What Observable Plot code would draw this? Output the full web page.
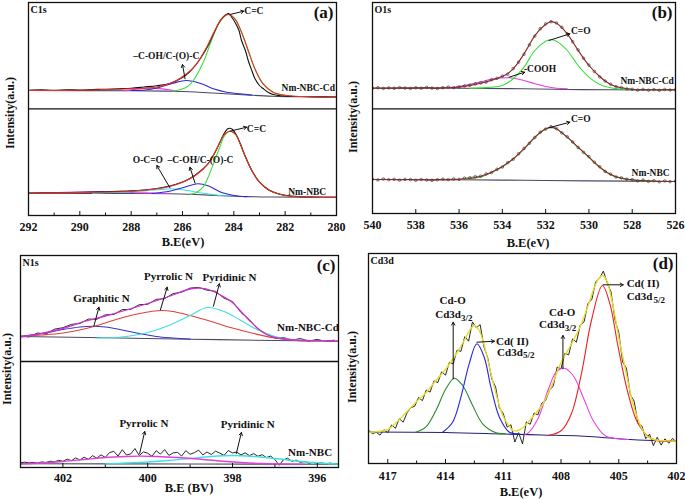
<!DOCTYPE html>
<html><head><meta charset="utf-8">
<script src="https://cdn.jsdelivr.net/npm/d3@7"></script>
<script src="https://cdn.jsdelivr.net/npm/@observablehq/plot@0.6"></script>
<style>
body{margin:0;background:#fff;}
#wrap{position:relative;width:685px;height:499px;overflow:hidden;font-family:"Liberation Serif","Times New Roman",serif;font-weight:bold;color:#111;}
.p{position:absolute;}
.xt{position:absolute;white-space:nowrap;font-size:12.5px;transform:translate(-50%,-50%);}
.yt{position:absolute;white-space:nowrap;font-size:12px;transform:translate(-50%,-50%) rotate(-90deg);}
</style></head><body><div id="wrap"></div>
<script>
// ---------------- (a) C1s ----------------
const ticksA = [292,290,288,286,284,282,280];
const minorA = [291,289,287,285,283,281];
const c1sCdBase = [[292,125],[288,124.7],[286.5,124.3],[285.5,123.5],[284.5,122],[283.5,120.5],[282.5,119.2],[281.5,118.7],[280,118.5]];
const c1sCdData = [[292,125.3],[291.5,125.6],[291,125.2],[290.5,125.8],[290,125.5],[289.5,126],[289,126.3],[288.5,126.8],[288,127.3],[287.5,128.5],[287,129.8],[286.5,132],[286,138],[285.75,143],[285.5,150],[285.25,159],[285,170],[284.75,184],[284.5,196],[284.3,201],[284.2,202],[284.1,199],[283.95,193],[283.8,185],[283.7,175],[283.55,165],[283.44,155],[283.3,145],[283.18,137],[283,130],[282.86,127],[282.65,123],[282.47,121],[282.2,119.8],[281.95,119.2],[281.5,119],[281,118.8],[280,118.5]];
const c1sCdFit = [[292,125],[290,125.2],[288,126.7],[287,128.5],[286.36,133.3],[285.84,141.7],[285.45,151.7],[285.06,168.3],[284.74,185],[284.48,196.7],[284.22,201],[283.96,196.7],[283.7,183.3],[283.44,165],[283.18,146.7],[282.86,131.7],[282.47,123.3],[281.95,120],[281,118.8],[280,118.5]];
const c1sCdCC = [[286.4,124.4],[286.1,125.7],[285.8,129],[285.58,135],[285.19,153.3],[284.87,175],[284.55,193.3],[284.22,201],[283.96,196.7],[283.7,183.3],[283.44,165],[283.18,146.7],[282.86,131.7],[282.47,123.3],[281.95,120],[281.5,119]];
const c1sCdCOH = [[288,125],[287.53,125.3],[286.88,128.3],[286.36,132.3],[285.84,135],[285.32,132.3],[284.8,126.7],[284.28,123.3],[283.76,121.7],[283.3,120.5]];
const c1sCdOther = [[288.3,124.8],[287.8,126.2],[287.3,127.4],[286.8,126.6],[286.3,124.8]];
const c1sBase = [[292,22.3],[288,22],[286.5,21.8],[285.5,21],[284.5,19.8],[283.5,18.9],[282.5,18.5],[280,18.3]];
const c1sData = [[292,22.5],[291,22.8],[290,23.2],[289,23.8],[288,24.6],[287.5,25.5],[287,27],[286.5,29.5],[286,33.5],[285.75,36.5],[285.5,40.5],[285.25,45.5],[285,52],[284.8,60],[284.6,70],[284.4,81],[284.25,86.5],[284.15,87.3],[284.05,86],[283.9,80.5],[283.75,72],[283.6,62],[283.45,53],[283.3,45],[283.15,38.5],[283,33.5],[282.8,28.5],[282.6,25],[282.3,22],[282,20.3],[281.5,19],[281,18.5],[280,18.3]];
const c1sFit = [[292,22.3],[290,23],[288,24.3],[287,26.7],[286.5,29],[286,33.3],[285.5,40],[285,51.7],[284.7,65],[284.55,73],[284.4,80],[284.28,83],[284.15,84.3],[284.02,83],[283.9,80],[283.75,71.5],[283.6,61.7],[283.3,45],[283,33.3],[282.6,25],[282,20],[281,18.3],[280,18.3]];
const c1sCC = [[285.7,21.2],[285.5,22.5],[285.2,28.3],[285,38.3],[284.7,58.3],[284.55,68],[284.4,78.3],[284.28,82.5],[284.15,84.3],[284.02,83],[283.9,80],[283.75,71.5],[283.6,61.7],[283.3,45],[283,33.3],[282.6,25],[282,20],[281.5,18.7]];
const c1sCOH = [[287.2,22],[286.5,24.3],[286,27.7],[285.4,31.7],[285,29.7],[284.5,23.3],[284,20],[283.5,18.9]];
const c1sOCO = [[289.5,22.2],[289,22.7],[288,23.7],[287,25.7],[286.4,26.7],[285.8,25],[285.2,22.3],[284.6,20.3],[284.2,19.5]];
const c1sOther = [[291.5,22.3],[290.5,23.2],[289.5,23.8],[288.5,23.6],[287.5,22.6],[286.5,22]];
const notesA = [
  {x:283.22,y:205,t:"C=C"},{x:286.63,y:160,t:"–C-OH/C-(O)-C"},{x:281.1,y:127.7,t:"Nm-NBC-Cd"},
  {x:283.12,y:86.7,t:"C=C"},{x:287.35,y:55.7,t:"O-C=O"},{x:285.3,y:55.7,t:"–C-OH/C-(O)-C"},{x:281.14,y:23.3,t:"Nm-NBC"}];
const arrowsA = [[284.15,201,283.61,204.3],[285.9,136.7,286.0,151],[284.15,84.3,283.5,88.3],[286.49,27.7,287.0,50],[285.51,32.3,285.71,48.3]];

// ---------------- (b) O1s ----------------
const ticksB = [540,538,536,534,532,530,528,526];
const o1sCdBase = [[540,125.3],[536,125.3],[533,124.7],[531,124],[529,123.7],[526,123.7]];
const o1sCdFit = [[540,125.3],[538,125.7],[536,126.3],[535,130.3],[534,137],[533.5,144.7],[533,159.7],[532.5,178],[532,189],[531.75,192],[531.5,190.3],[531,179.7],[530.5,163],[530,148],[529.5,137],[529,129],[528.5,125.7],[528,124.3],[527,123.7],[526,123.7]];
const o1sCdCO = [[535.5,125.2],[535,125.6],[534,128],[533.5,134.7],[533,146.3],[532.5,163],[532,172.3],[531.8,173.7],[531.5,172.3],[531,163],[530.5,148],[530,136.3],[529.5,129],[529,125.7],[528.5,124.3],[528,123.7]];
const o1sCdCOOH = [[536.5,125.3],[536,127],[535,131.7],[534.5,134.3],[533.7,135.7],[533,133],[532.5,129.7],[532,127],[531.5,125.3],[531,124.7]];
const o1sCdData = [[540,125.3],[539.75,125.8],[539.5,125.1],[539.25,125.6],[539,125.2],[538.75,125.9],[538.5,125.4],[538.25,125],[538,125.7],[537.75,125.3],[537.5,126.1],[537.25,125.4],[537,125],[536.75,125.8],[536.5,126.4],[536.25,125.9],[536,126.6],[535.75,127.5],[535.5,128.2],[535.25,129.6],[535,130.5],[534.75,131.4],[534.5,133.8],[534.25,135.2],[534,137.4],[533.75,139.2],[533.5,144.9],[533.25,151.3],[533,159.2],[532.75,168.6],[532.5,177.4],[532.25,184.8],[532,189.6],[531.75,191.8],[531.5,190.6],[531.25,186.2],[531,179.4],[530.75,171.8],[530.5,163.6],[530.25,155.3],[530,148.4],[529.75,142.1],[529.5,136.6],[529.25,132.5],[529,129.3],[528.75,126.8],[528.5,125.9],[528.25,124.6],[528,124.2],[527.75,123.4],[527.5,124.1],[527.25,123.3],[527,123.9],[526.75,123.2],[526.5,124],[526.25,123.5],[526,123.7]];
const o1sBase = [[540,34],[536,33.8],[533,33.2],[530,32.6],[526,32]];
const o1sFit = [[540,34],[538,33.7],[536,34],[535,37],[534.5,41.3],[534,47],[533.5,54.7],[533,64.7],[532.5,76.3],[532,84.7],[531.75,86.3],[531.5,84.7],[531,76.3],[530.5,66.3],[530,56.3],[529.5,46.3],[529,39],[528.5,35.3],[528,33.7],[527,32.3],[526,32]];
const o1sCO = [[536,33.8],[535,36.6],[534.5,41],[534,46.7],[533.5,54.4],[533,64.4],[532.5,76],[532,84.5],[531.75,86.1],[531.5,84.5],[531,76.1],[530.5,66.1],[530,56.1],[529.5,46.1],[529,38.8],[528.5,35.1],[528,33.5],[527,32.2]];
const o1sData = [[540,34.3],[539.75,33.6],[539.5,34.5],[539.25,33.8],[539,34.2],[538.75,33.4],[538.5,34.1],[538.25,33.9],[538,33.2],[537.75,34],[537.5,33.5],[537.25,33.1],[537,33.8],[536.75,34.4],[536.5,33.9],[536.25,34.6],[536,34.2],[535.75,35.4],[535.5,35.8],[535.25,36.9],[535,37.3],[534.75,39.6],[534.5,41],[534.25,44.2],[534,46.5],[533.75,50.9],[533.5,54.3],[533.25,59.8],[533,65.1],[532.75,70.2],[532.5,76],[532.25,81.3],[532,84.4],[531.75,86.8],[531.5,84.9],[531.25,80.6],[531,76.7],[530.75,71.5],[530.5,66],[530.25,61.2],[530,56.9],[529.75,51.3],[529.5,46.8],[529.25,42.1],[529,39.4],[528.75,36.5],[528.5,35.7],[528.25,34.3],[528,33.9],[527.75,32.6],[527.5,33.4],[527.25,32.1],[527,32.8],[526.75,31.7],[526.5,32.5],[526.25,31.9],[526,32.3]];
const notesB = [{x:530.38,y:183,t:"C=O"},{x:532.26,y:144.7,t:"-COOH"},{x:527.31,y:132.3,t:"Nm-NBC-Cd"},{x:530.38,y:94.7,t:"C=O"},{x:527.15,y:40.3,t:"Nm-NBC"}];
const arrowsB = [[531.85,173,530.88,179.7],[533.69,136.3,532.97,141.3],[531.85,85.7,530.88,91.3]];

// ---------------- (c) N1s ----------------
const ticksC = [402,400,398,396];
const minorC = [401,399,397];
const n1sCdBase = [[403,131],[401,129.7],[399,128.3],[397,127],[395.5,126.3]];
const n1sCdFit = [[403,130.5],[402.5,134],[402,139],[401.5,146],[401,151.5],[400.5,157.5],[400,164],[399.5,171],[399,178.5],[398.75,179.3],[398.5,177],[398.2,170.5],[398,165],[397.8,156],[397.6,147],[397.4,139],[397.2,133],[397,130],[396.5,127.5],[396,126.8],[395.5,126.3]];
const n1sCdGraphitic = [[403,131.2],[402.5,134],[402,138],[401.6,140.5],[401.3,141.3],[401,140.5],[400.6,137.5],[400.2,134],[399.8,131],[399.4,129.5],[399,128.5]];
const n1sCdPyrrolic = [[403,131.3],[402.5,132.5],[402,134.5],[401.5,138.5],[401,144.5],[400.5,151],[400,155.5],[399.7,157],[399.4,156],[399,152],[398.5,146],[398,139.5],[397.5,134],[397,129.5],[396.5,127],[396,126.5],[395.5,126.3]];
const n1sCdPyridinic = [[401.2,129.5],[401,129.7],[400.5,131],[400,135],[399.5,142],[399,152],[398.6,160],[398.2,156],[397.8,147],[397.4,137.5],[397,131],[396.6,128],[396.2,127],[395.8,126.5]];
const n1sCdData = [[403,131.2],[402.8,130.6],[402.6,134.5],[402.4,133.6],[402.2,138.3],[402,139.8],[401.8,143.1],[401.6,144],[401.4,148.4],[401.2,148.2],[401,152.6],[400.8,153],[400.6,157.9],[400.4,158.1],[400.2,162.8],[400,163.2],[399.8,168.1],[399.6,168.9],[399.4,173.9],[399.2,175.3],[399,179.4],[398.8,180.1],[398.6,177.3],[398.4,176.2],[398.2,169.3],[398,165.9],[397.8,155],[397.6,147.8],[397.4,138.1],[397.2,133.9],[397,129.3],[396.8,130.1],[396.6,127.2],[396.4,129],[396.2,126.4],[396,128.1],[395.8,126],[395.6,127.3]];
const n1sBase = [[403,3.8],[399,3.5],[395.5,3.3]];
const n1sPyrrolic = [[403,3.5],[402.5,4.5],[402,6],[401.5,8],[401,10],[400.5,11],[400.2,11.3],[399.8,11],[399.3,10],[398.8,8.5],[398.3,6.5],[397.8,5],[397.3,4],[396.8,3.5],[396.3,3.3]];
const n1sPyridinic = [[401,3.5],[400.5,4.5],[400,5.5],[399.5,7],[399,9],[398.5,11],[398,12],[397.5,11],[397,9],[396.5,6.5],[396,4.5],[395.5,3.5]];
const n1sData = [[403,4.8],[402.9,5.3],[402.8,4.6],[402.7,5.1],[402.6,4.4],[402.5,5.6],[402.4,5],[402.3,6.3],[402.2,5.5],[402.1,7.2],[402,6.1],[401.9,8.4],[401.8,6.8],[401.7,9.6],[401.6,7.5],[401.5,10.3],[401.4,8.2],[401.3,11.8],[401.2,9.4],[401.1,12.6],[401,10.1],[400.9,14.9],[400.8,16.2],[400.7,11.4],[400.6,17.8],[400.5,12.5],[400.4,13.6],[400.3,18.9],[400.2,12],[400.1,15.6],[400,14.3],[399.9,11.2],[399.8,16.8],[399.7,13.4],[399.6,17.9],[399.5,12.1],[399.4,14.6],[399.3,15.2],[399.2,11.5],[399.1,16.9],[399,13.2],[398.9,14.8],[398.8,17.4],[398.7,12.6],[398.6,15.5],[398.5,13],[398.4,16.3],[398.3,14.4],[398.2,12.1],[398.1,17],[398,14.6],[397.9,15.4],[397.8,12.6],[397.7,14.7],[397.6,11.8],[397.5,13.9],[397.4,11.2],[397.3,12.8],[397.2,9.9],[397.1,11.4],[397,8.1],[396.9,2.2],[396.8,7.6],[396.7,9.3],[396.6,6.2],[396.5,7.4],[396.4,5.1],[396.3,6],[396.2,4.3],[396.1,5.2],[396,3.9],[395.9,4.6],[395.8,3.6],[395.7,4.4],[395.6,3.8],[395.5,4.1]];
const notesC = [{x:401.09,y:169.3,t:"Graphitic N"},{x:399.51,y:191.3,t:"Pyrrolic N"},{x:398.07,y:190.3,t:"Pyridinic N"},{x:396.22,y:140.3,t:"Nm-NBC-Cd"},{x:400.09,y:43.7,t:"Pyrrolic N"},{x:397.64,y:43,t:"Pyridinic N"},{x:396.17,y:14.7,t:"Nm-NBC"}];
const arrowsC = [[401.27,141.3,401.15,160.3],[399.7,157.7,399.54,180.3],[398.45,161.3,398.31,183.7],[400.19,14,400.07,36],[397.91,14,397.79,35]];

// ---------------- (d) Cd3d ----------------
const ticksD = [417,414,411,408,405,402];
const minorD = [415.5,412.5,409.5,406.5,403.5];
const cdBase = [[418,31.5],[414,31],[411,29.5],[409,28.5],[407,27.5],[405.5,25.5],[404,23.5],[402,22.3]];
const cdFit = [[418,31.3],[417.5,32],[417,34],[416.5,42],[416,52],[415.5,62],[415,71],[414.5,83],[414,94],[413.5,108],[413,124],[412.75,133],[412.5,138],[412.25,133],[412,119],[411.75,99],[411.5,79],[411.25,61],[411,47],[410.75,39],[410.5,33],[410.25,33],[410,35.5],[409.5,46],[409,58],[408.5,77],[408,101],[407.5,118],[407,137],[406.5,163],[406.25,177],[406,186],[405.85,188],[405.65,184],[405.4,167],[405.2,148],[405,126],[404.75,103],[404.5,80],[404.25,59],[404,44],[403.75,33],[403.5,27],[403.25,24.5],[403,23.3],[402.5,22.6],[402,22.3]];
const cdOLeft = [[415.55,31.3],[415.03,36.3],[414.5,53],[413.98,74.7],[413.54,85.3],[413.11,78],[412.59,58],[412.07,39.7],[411.37,30.7],[410.9,30]];
const cdIILeft = [[414.15,31.3],[413.63,41.3],[413.2,66.3],[412.77,99.7],[412.37,119.7],[411.99,106.3],[411.64,76.3],[411.2,46.3],[410.68,31.3],[410.2,29.8]];
const cdORight = [[409.9,29.2],[409.72,30.3],[409.2,44.7],[408.68,73],[408.25,91.3],[407.84,95.3],[407.37,88],[406.85,66.3],[406.33,43],[405.72,28],[405.03,24.7],[404.5,24]];
const cdIIRight = [[408.68,28],[407.98,33],[407.46,49.7],[406.94,89.7],[406.42,143],[405.85,178],[405.46,159.7],[405.03,116.3],[404.51,69.7],[403.99,39.7],[403.29,24.7],[402.07,22.3]];
const cdData = [[418,33.5],[417.8,29.8],[417.6,31.2],[417.4,28.4],[417.2,33.8],[417,30.9],[416.8,38.6],[416.6,35.2],[416.4,44.9],[416.2,41.3],[416,50.6],[415.8,55.9],[415.6,57.2],[415.4,66.1],[415.2,62.8],[415,73.5],[414.8,71.4],[414.6,82.6],[414.4,80.9],[414.2,91.7],[414,88.3],[413.8,101.2],[413.6,99.6],[413.4,113.4],[413.2,112.1],[413,126.8],[412.8,122.3],[412.6,141.6],[412.4,135.7],[412.2,138.9],[412,116.4],[411.8,105.2],[411.6,84.5],[411.4,76.8],[411.2,55.3],[411,50.1],[410.8,36.4],[410.6,38.7],[410.4,21.5],[410.2,30.8],[410,19.6],[409.8,41.7],[409.6,39.2],[409.4,50.5],[409.2,48.6],[409,60.3],[408.8,62.9],[408.6,73.1],[408.4,77.6],[408.2,96.4],[408,94.8],[407.8,110.2],[407.6,108.7],[407.4,124.6],[407.2,121.3],[407,138.5],[406.8,141.7],[406.6,160.2],[406.4,163.9],[406.2,181.6],[406,185.3],[405.8,192.4],[405.6,180.7],[405.4,171.5],[405.2,143.8],[405,131.2],[404.8,101.6],[404.6,95.3],[404.4,68.9],[404.2,62.4],[404,40.1],[403.8,37.6],[403.6,24.8],[403.4,29.3],[403.2,17.9],[403,26.2],[402.8,18.4],[402.6,24.7],[402.4,20.3],[402.2,25.1],[402,21.2]];
const notesD = [
  {x:413.63,y:163,t:"Cd-O"},{x:413.2,y:149,t:"Cd3d",a:"end"},{x:413.2,y:145.5,t:"3/2",a:"start",s:9},
  {x:411.38,y:122.5,t:"Cd( II)",a:"start"},{x:411.32,y:111.3,t:"Cd3d",a:"start"},{x:409.98,y:108,t:"5/2",a:"start",s:9},
  {x:407.94,y:150.8,t:"Cd-O"},{x:407.81,y:139,t:"Cd3d",a:"end"},{x:407.81,y:135.5,t:"3/2",a:"start",s:9},
  {x:404.59,y:179.7,t:"Cd( II)",a:"start"},{x:404.59,y:167,t:"Cd3d",a:"start"},{x:403.2,y:163.5,t:"5/2",a:"start",s:9}];
const arrowsD = [[413.6,84.7,413.6,141.3],[412.37,121.3,411.46,122.3],[407.9,94.7,407.9,128],[405.81,178.7,404.77,178.7]];

// ---------------- drawing ----------------
const XY = {x: d => d[0], y: d => d[1]};
function panel(o) {
  const marks = [];
  for (const s of o.series) {
    marks.push(Plot.line(s.data, {...XY, stroke: s.c, strokeWidth: s.w || 1.1, curve: s.curve || "catmull-rom", clip: true}));
    if (s.dots) marks.push(Plot.dot(s.data, {...XY, r: 1.3, stroke: s.c, strokeWidth: 0.6, fill: "none", clip: true}));
  }
  if (o.divider != null) marks.push(Plot.ruleY([o.divider], {stroke: "#111", strokeWidth: 1.3}));
  marks.push(Plot.ruleX(o.major, {x: d => d, y1: o.y[0], y2: o.y[0] + 4, stroke: "#111", strokeWidth: 1}));
  if (o.minor) marks.push(Plot.ruleX(o.minor, {x: d => d, y1: o.y[0], y2: o.y[0] + 2.5, stroke: "#111", strokeWidth: 1}));
  marks.push(Plot.arrow(o.arrows, {x1: d => d[0], y1: d => d[1], x2: d => d[2], y2: d => d[3], stroke: "#111", strokeWidth: 1, headLength: 5}));
  for (const a of ["start", "middle", "end"]) for (const sz of [o.fs, 9]) {
    const sub = o.notes.filter(d => (d.a || "middle") === a && (d.s || o.fs) === sz);
    if (sub.length) marks.push(Plot.text(sub, {x: d => d.x, y: d => d.y, text: d => d.t, textAnchor: a, fontSize: sz, fontWeight: "bold", fill: "#111"}));
  }
  marks.push(Plot.text([o.element], {text: d => d, frameAnchor: "top-left", dx: 2, dy: 3, fontSize: 10, fontWeight: "bold", fill: "#111"}));
  marks.push(Plot.text([o.letter], {text: d => d, frameAnchor: "top-right", dx: -3, dy: 3, fontSize: 17, fontWeight: "bold", fill: "#111"}));
  marks.push(Plot.frame({stroke: "#111", strokeWidth: 1.3}));
  marks.push(Plot.axisX({ticks: o.major, tickSize: 0, tickPadding: o.pad, tickFormat: d => String(d), label: null}));
  const svg = Plot.plot({
    width: o.w, height: o.h,
    marginLeft: o.m[0], marginRight: o.m[1], marginTop: o.m[2], marginBottom: o.m[3],
    x: {domain: o.x}, y: {domain: o.y, axis: null},
    style: {fontFamily: "'Liberation Serif','Times New Roman',serif", fontSize: "12px", fontWeight: "bold", overflow: "visible", background: "transparent", color: "#111"},
    marks
  });
  const div = document.createElement("div");
  div.className = "p";
  div.style.left = o.left + "px"; div.style.top = o.top + "px";
  div.appendChild(svg);
  document.getElementById("wrap").appendChild(div);
}

const RED = "#e8322a", GREEN = "#38e038", BLUE = "#2b2bd6", MAG = "#e040e0", CYAN = "#3ee0e0", BASE = "#4a4a66";

panel({left: 0, top: 0, w: 345, h: 250, m: [28, 9, 2, 35], x: [292, 280], y: [0, 213], divider: 106.7,
  major: ticksA, minor: minorA, pad: 6.5, element: "C1s", letter: "(a)", fs: 9.5, notes: notesA, arrows: arrowsA,
  series: [
    {data: c1sCdBase, c: BASE}, {data: c1sCdOther, c: MAG}, {data: c1sCdCOH, c: BLUE}, {data: c1sCdCC, c: GREEN},
    {data: c1sCdData, c: "#111"}, {data: c1sCdFit, c: RED},
    {data: c1sBase, c: BASE}, {data: c1sOther, c: MAG}, {data: c1sOCO, c: CYAN}, {data: c1sCOH, c: BLUE}, {data: c1sCC, c: GREEN},
    {data: c1sData, c: "#111"}, {data: c1sFit, c: RED}
  ]});

panel({left: 340, top: 0, w: 345, h: 250, m: [32, 10, 2, 37], x: [540, 526], y: [0, 211], divider: 104.7,
  major: ticksB, pad: 7, element: "O1s", letter: "(b)", fs: 9.5, notes: notesB, arrows: arrowsB,
  series: [
    {data: o1sCdBase, c: BASE}, {data: o1sCdCOOH, c: MAG}, {data: o1sCdCO, c: GREEN}, {data: o1sCdFit, c: RED},
    {data: o1sCdData, c: "#333", w: 0.6, curve: "linear", dots: true},
    {data: o1sBase, c: BASE}, {data: o1sCO, c: GREEN}, {data: o1sFit, c: RED},
    {data: o1sData, c: "#333", w: 0.6, curve: "linear", dots: true}
  ]});

panel({left: 0, top: 250, w: 345, h: 249, m: [20, 7, 5, 32], x: [403, 395.5], y: [0, 212], divider: 106,
  major: ticksC, minor: minorC, pad: 5.7, element: "N1s", letter: "(c)", fs: 11, notes: notesC, arrows: arrowsC,
  series: [
    {data: n1sCdData, c: "#111", w: 0.9, curve: "linear"},
    {data: n1sCdBase, c: BASE}, {data: n1sCdGraphitic, c: "#3535c8"}, {data: n1sCdPyrrolic, c: "#e0413a"}, {data: n1sCdPyridinic, c: CYAN},
    {data: n1sCdFit, c: "#cc33cc", w: 1.3},
    {data: n1sData, c: "#111", w: 0.9, curve: "linear"},
    {data: n1sBase, c: BASE}, {data: n1sPyridinic, c: CYAN, w: 1.3}, {data: n1sPyrrolic, c: "#dd40dd", w: 1.3}
  ]});

panel({left: 340, top: 250, w: 345, h: 249, m: [28, 9, 3, 36], x: [418, 402], y: [0, 210], divider: null,
  major: ticksD, minor: minorD, pad: 7.7, element: "Cd3d", letter: "(d)", fs: 11, notes: notesD, arrows: arrowsD,
  series: [
    {data: cdData, c: "#111", w: 0.9, curve: "linear"},
    {data: cdBase, c: "#22227a"}, {data: cdOLeft, c: "#2a8a2a"}, {data: cdIILeft, c: "#2424e0"},
    {data: cdORight, c: "#ee40ee"}, {data: cdIIRight, c: "#ee2020"},
    {data: cdFit, c: "#e6dc2a", w: 1.4}
  ]});

// axis titles
const wrap = document.getElementById("wrap");
function lab(cls, text, x, y) {
  const d = document.createElement("div");
  d.className = cls; d.textContent = text;
  d.style.left = x + "px"; d.style.top = y + "px";
  wrap.appendChild(d);
}
lab("xt", "B.E(eV)", 183, 242);
lab("xt", "B.E(eV)", 528, 243);
lab("xt", "B.E (BV)", 189, 488);
lab("xt", "B.E(eV)", 521, 492);
lab("yt", "Intensity(a.u.)", 10, 113);
lab("yt", "Intensity(a.u.)", 353, 117);
lab("yt", "Intensity(a.u.)", 7, 369);
lab("yt", "Intensity(a.u.)", 352, 367);
</script></body></html>
